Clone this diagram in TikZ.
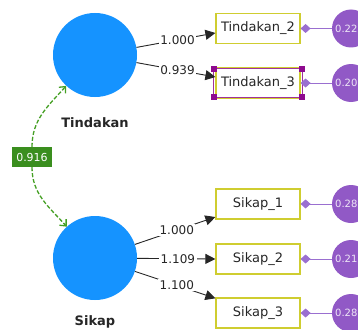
\documentclass[tikz,border=0pt]{standalone}
\usepackage{fontspec}
\setmainfont{DejaVu Sans}
\usetikzlibrary{arrows.meta}
\definecolor{latblue}{HTML}{1593FF}
\definecolor{errpurple}{HTML}{9159C6}
\definecolor{linkpurple}{HTML}{9A6FD0}
\definecolor{boxyellow}{HTML}{CFCD30}
\definecolor{covgreen}{HTML}{45A024}
\definecolor{labgreen}{HTML}{3A8E1E}
\definecolor{selpurple}{HTML}{A0329A}
\definecolor{handlepurple}{HTML}{8E0A8E}
\begin{document}
\begin{tikzpicture}[x=1pt,y=-1pt,
  latent/.style={circle,fill=latblue,minimum size=84pt,inner sep=0pt},
  latlabel/.style={font=\fontsize{13}{14}\selectfont\bfseries,text=black!85},
  indic/.style={draw=boxyellow,line width=1.2pt,fill=white,minimum width=84pt,minimum height=30pt,inner sep=0pt,font=\fontsize{13}{14}\selectfont,text=black!85},
  err/.style={circle,fill=errpurple,minimum size=38pt,inner sep=0pt},
  errtxt/.style={text=white!85!errpurple,font=\fontsize{10}{10}\selectfont,anchor=west,inner sep=0pt},
  load/.style={draw=black!85,line width=0.9pt,-{Triangle[length=10pt,width=10pt]}},
  lval/.style={fill=white,inner sep=1.5pt,font=\fontsize{12}{12}\selectfont,text=black!85},
  errlink/.style={draw=linkpurple,line width=1pt,-{Diamond[length=10pt,width=9pt]}},
  cov/.style={draw=covgreen,line width=1.3pt,dashed,dash pattern=on 4pt off 2pt,-{Straight Barb[length=5pt,width=9pt]}},
  covlabel/.style={fill=labgreen,text=white,inner sep=0pt,minimum width=40pt,minimum height=20pt,font=\fontsize{11}{12}\selectfont},
  handle/.style={fill=handlepurple,minimum size=6pt,inner sep=0pt}
]
\useasboundingbox (0,0) rectangle (358,329);
\fill[white] (0,0) rectangle (358,329);

% latent variables
\node[latent] (T) at (95,55) {};
\node[latent] (S) at (95,258) {};
\node[latlabel] (Tl) at (95,123) {Tindakan};
\node[latlabel] (Sl) at (95,322) {Sikap};

% indicators
\node[indic] (T2) at (258,28.5) {Tindakan\_2};
\node[indic] (T3) at (258,83) {Tindakan\_3};
\node[indic] (S1) at (258,204) {Sikap\_1};
\node[indic] (S2) at (258,259) {Sikap\_2};
\node[indic] (S3) at (258,313) {Sikap\_3};

% selection of Tindakan_3
\draw[selpurple,line width=1pt] ([shift={(-1.5,1.5)}]T3.north west) rectangle ([shift={(1.5,-1.5)}]T3.south east);
\node[handle] (h1) at ([shift={(-1.5,1.5)}]T3.north west) {};
\node[handle] (h2) at ([shift={(1.5,1.5)}]T3.north east) {};
\node[handle] (h3) at ([shift={(-1.5,-1.5)}]T3.south west) {};
\node[handle] (h4) at ([shift={(1.5,-1.5)}]T3.south east) {};

% error terms
\node[err] (eT2) at (351,28.5) {};
\node[err] (eT3) at (351,83) {};
\node[err] (eS1) at (351,204) {};
\node[err] (eS2) at (351,259) {};
\node[err] (eS3) at (351,313) {};
\node[errtxt] (tT2) at (335,28.5) {0.22};
\node[errtxt] (tT3) at (335,83) {0.20};
\node[errtxt] (tS1) at (335,204) {0.28};
\node[errtxt] (tS2) at (335,259) {0.21};
\node[errtxt] (tS3) at (335,313) {0.28};

\draw[errlink] (eT2) -- (T2);
\draw[errlink] (eT3) -- (T3);
\draw[errlink] (eS1) -- (S1);
\draw[errlink] (eS2) -- (S2);
\draw[errlink] (eS3) -- (S3);

% loadings
\draw[load] (T) -- node[lval,pos=0.52] {1.000} (T2.186);
\draw[load] (T) -- node[lval,pos=0.52] {0.939} (T3.172);
\draw[load] (S) -- node[lval,pos=0.52] {1.000} (S1.197);
\draw[load] (S) -- node[lval,pos=0.52] {1.109} (S2.west);
\draw[load] (S) -- node[lval,pos=0.52] {1.100} (S3.161);

% covariance
\node[covlabel] (C) at (32,157) {0.916};
\draw[cov] (C.north) to[out=90,in=228] (T.227);
\draw[cov] (C.south) to[out=-90,in=132] (S.132);
\end{tikzpicture}
\end{document}
